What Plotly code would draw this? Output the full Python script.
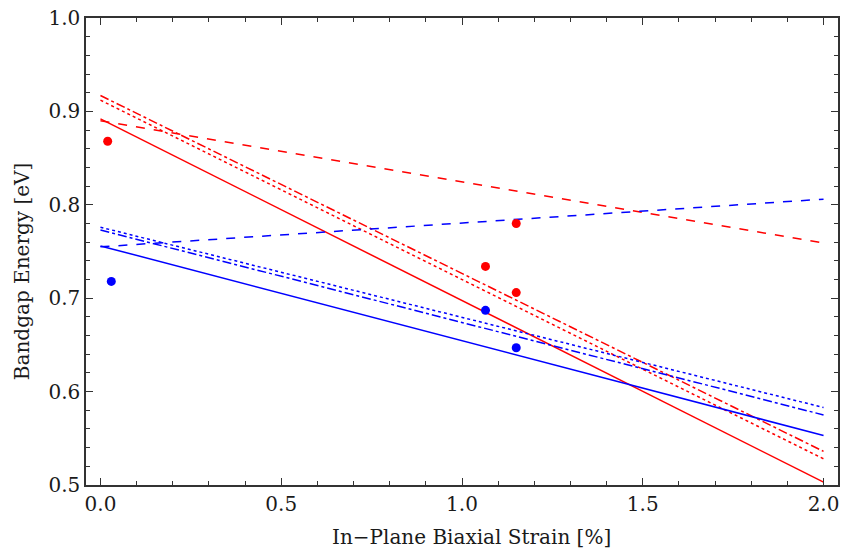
import plotly.graph_objects as go

# Strain endpoints for the linear model lines
strain = [0.0, 2.0]

red_solid = [0.892, 0.503]
red_dashed = [0.890, 0.759]
red_dot = [0.912, 0.528]
red_dashdot = [0.917, 0.536]

blue_solid = [0.756, 0.553]
blue_dashed = [0.755, 0.806]
blue_dot = [0.776, 0.583]
blue_dashdot = [0.773, 0.575]

# Measured points
red_pts_x = [0.02, 1.065, 1.15, 1.15]
red_pts_y = [0.868, 0.734, 0.780, 0.706]
blue_pts_x = [0.03, 1.065, 1.15]
blue_pts_y = [0.718, 0.687, 0.647]

x_tick_vals = [0.0, 0.5, 1.0, 1.5, 2.0]
x_tick_text = ["0.0", "0.5", "1.0", "1.5", "2.0"]
y_tick_vals = [0.5, 0.6, 0.7, 0.8, 0.9, 1.0]
y_tick_text = ["0.5", "0.6", "0.7", "0.8", "0.9", "1.0"]

x_title = "In\u2212Plane Biaxial Strain [%]"
y_title = "Bandgap Energy [eV]"

RED = "#ff0000"
BLUE = "#0000ff"

fig = go.Figure()

lines = [
    (red_solid, RED, "solid"),
    (red_dashed, RED, "dash"),
    (red_dot, RED, "dot"),
    (red_dashdot, RED, "dashdot"),
    (blue_solid, BLUE, "solid"),
    (blue_dashed, BLUE, "dash"),
    (blue_dot, BLUE, "dot"),
    (blue_dashdot, BLUE, "dashdot"),
]
for ys, col, dash in lines:
    fig.add_trace(go.Scatter(x=strain, y=ys, mode="lines",
                             line=dict(color=col, width=1.5, dash=dash),
                             showlegend=False, hoverinfo="skip"))

fig.add_trace(go.Scatter(x=red_pts_x, y=red_pts_y, mode="markers",
                         marker=dict(color=RED, size=9), showlegend=False))
fig.add_trace(go.Scatter(x=blue_pts_x, y=blue_pts_y, mode="markers",
                         marker=dict(color=BLUE, size=9), showlegend=False))

tick_font = dict(family="DejaVu Serif", size=20, color="#1a1a1a")
title_font = dict(family="DejaVu Serif", size=20, color="#1a1a1a")

fig.update_layout(
    width=846, height=552,
    margin=dict(l=86, r=6, t=18, b=67),
    plot_bgcolor="white", paper_bgcolor="white",
    font=tick_font,
    annotations=[
        dict(text=x_title, xref="paper", yref="paper", x=0.512, y=-0.111,
             xanchor="center", yanchor="middle", showarrow=False, font=title_font),
        dict(text=y_title, xref="paper", yref="paper", x=-0.085, y=0.456,
             xanchor="center", yanchor="middle", showarrow=False, textangle=-90,
             font=title_font),
    ],
)
fig.update_xaxes(
    range=[-0.04, 2.04], showgrid=False, zeroline=False,
    showline=True, linecolor="#333", linewidth=1.5, mirror="allticks",
    ticks="inside", ticklen=7, tickwidth=1, tickcolor="#333",
    tickvals=x_tick_vals, ticktext=x_tick_text,
    minor=dict(ticks="inside", dtick=0.1, tick0=0, ticklen=4, tickcolor="#333", showgrid=False),
    tickfont=tick_font,
)
fig.update_yaxes(
    range=[0.5, 1.0], showgrid=False, zeroline=False,
    showline=True, linecolor="#333", linewidth=1.5, mirror="allticks",
    ticks="inside", ticklen=7, tickwidth=1, tickcolor="#333",
    tickvals=y_tick_vals, ticktext=y_tick_text,
    minor=dict(ticks="inside", dtick=0.02, tick0=0.5, ticklen=4, tickcolor="#333", showgrid=False),
    tickfont=tick_font,
)

fig.write_html("out.html", config={"displayModeBar": False},
               post_script="document.body.style.margin='0px';")
